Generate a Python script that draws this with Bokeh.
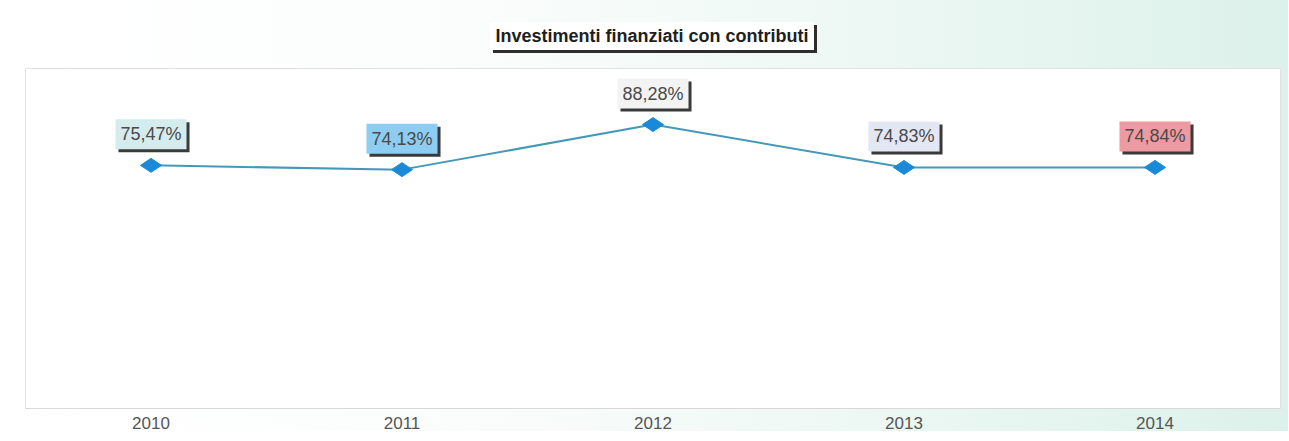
import math
from bokeh.plotting import figure
from bokeh.models import ColumnDataSource, Range1d, FactorRange, Div
from bokeh.layouts import column
from bokeh.core.properties import value
from bokeh.embed import file_html
from bokeh.resources import INLINE

years = ["2010", "2011", "2012", "2013", "2014"]
values = [75.47, 74.13, 88.28, 74.83, 74.84]
labels = ["75,47%", "74,13%", "88,28%", "74,83%", "74,84%"]
label_colors = ["#d5ecef", "#8dcdf2", "#f3f3f3", "#e3e7f3", "#ee9aa3"]
title_text = "Investimenti finanziati con contributi"

src = ColumnDataSource(dict(x=years, y=values, text=labels, bg=label_colors))

FONT = "Liberation Sans"

p = figure(
    x_range=FactorRange(*years),
    y_range=Range1d(-0.9, 105.9),
    frame_width=1255, frame_height=340,
    min_border_left=25, min_border_right=8, min_border_top=0, min_border_bottom=0,
    output_backend="svg", toolbar_location=None,
)
p.border_fill_alpha = 0
p.background_fill_color = "white"
p.outline_line_color = "#e2e2e2"
p.xgrid.grid_line_color = None
p.ygrid.grid_line_color = None
p.yaxis.visible = False

p.xaxis.axis_line_color = "#d8d8d8"
p.xaxis.major_tick_line_color = None
p.xaxis.minor_tick_line_color = None
p.xaxis.major_label_text_font = FONT
p.xaxis.major_label_text_font_size = "17px"
p.xaxis.major_label_text_color = "#555555"
p.xaxis.major_label_standoff = 2

p.line("x", "y", source=src, line_color="#4499b8", line_width=2)
p.scatter("x", "y", source=src, marker="diamond", size=21, angle=math.pi / 2,
          fill_color="#1a8ad8", line_color="#1a8ad8")

# label shadows
p.text("x", "y", text="text", source=src, x_offset=3, y_offset=-28,
       text_alpha=0, text_align="center", text_baseline="middle",
       text_font=value(FONT), text_font_size="18px",
       background_fill_color="#3a3a3a", padding=5)
# labels
p.text("x", "y", text="text", source=src, x_offset=0, y_offset=-31,
       text_color="#4a4a4a", text_align="center", text_baseline="middle",
       text_font=value(FONT), text_font_size="18px",
       background_fill_color="bg", padding=5)

title_html = (
    '<div style="width:1272px;text-align:center;">'
    '<span style="display:inline-block;background:#ffffff;box-shadow:3px 3px 0 #2e2e2e;'
    "padding:3px 5px 3px 5px;font-family:'Liberation Sans',Arial,sans-serif;font-weight:bold;"
    'font-size:18px;line-height:22px;color:#1e1e1e;">'
    + title_text + '</span></div>'
)
title_div = Div(text=title_html, width=1272, height=46, margin=(22, 0, 0, 16))

layout = column(
    title_div, p, spacing=0,
    styles={"background": "linear-gradient(90deg, #ffffff 0%, #fbfdfc 35%, #eef8f4 65%, #dcf1ea 100%)"},
)

open("out.html", "w").write(file_html(layout, INLINE))
